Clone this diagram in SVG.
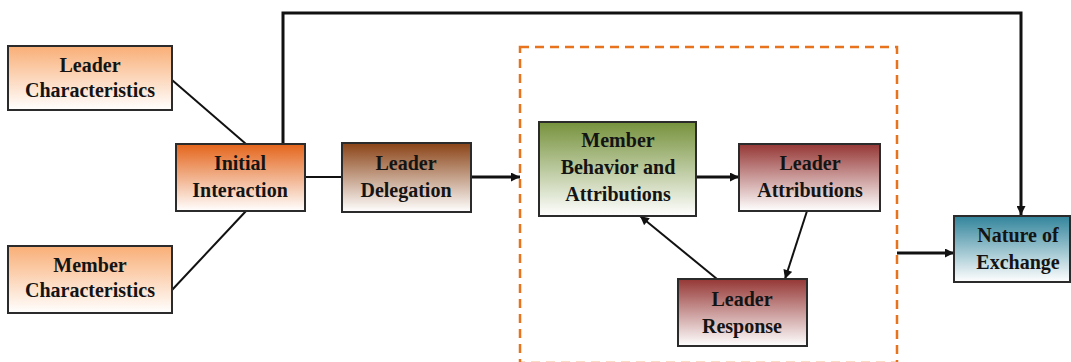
<svg xmlns="http://www.w3.org/2000/svg" width="1071" height="362" viewBox="0 0 1071 362">
<defs>
<linearGradient id="gPeach" x1="0" y1="0" x2="0" y2="1"><stop offset="0" stop-color="#F9AE76"/><stop offset="1" stop-color="#FFFFFF"/></linearGradient>
<linearGradient id="gOrange" x1="0" y1="0" x2="0" y2="1"><stop offset="0" stop-color="#E4641A"/><stop offset="1" stop-color="#FFFFFF"/></linearGradient>
<linearGradient id="gBrown" x1="0" y1="0" x2="0" y2="1"><stop offset="0" stop-color="#8A4316"/><stop offset="1" stop-color="#FFFFFF"/></linearGradient>
<linearGradient id="gGreen" x1="0" y1="0" x2="0" y2="1"><stop offset="0" stop-color="#76923C"/><stop offset="1" stop-color="#FFFFFF"/></linearGradient>
<linearGradient id="gRed" x1="0" y1="0" x2="0" y2="1"><stop offset="0" stop-color="#953735"/><stop offset="1" stop-color="#FFFFFF"/></linearGradient>
<linearGradient id="gTeal" x1="0" y1="0" x2="0" y2="1"><stop offset="0" stop-color="#31849B"/><stop offset="1" stop-color="#FFFFFF"/></linearGradient>
<marker id="arr" viewBox="0 0 10 10" refX="10" refY="5" markerWidth="10" markerHeight="9" markerUnits="userSpaceOnUse" orient="auto"><path d="M0,0 L10,5 L0,10 z" fill="#111"/></marker>
</defs>
<style>
.box{stroke:#2b2b2b;stroke-width:2}
.t{font-family:"Liberation Serif","Times New Roman","DejaVu Serif",serif;font-weight:bold;font-size:20px;fill:#141414;text-anchor:middle}
.c{fill:none;stroke:#111}
.thin{stroke-width:2}
.thick{stroke-width:3}
.dash{fill:none;stroke:#E8731E;stroke-width:2.5;stroke-dasharray:9 6}
</style>
<rect width="1071" height="362" fill="#FFFFFF"/>
<g id="group-box">
<rect class="dash" x="520" y="47" width="377" height="316"/>
</g>
<g id="connectors">
<line class="c thin" x1="172" y1="80" x2="246" y2="144"/>
<line class="c thin" x1="246" y1="211" x2="172" y2="290"/>
<polyline class="c thick" points="283,144 283,13 1021,13 1021,215" marker-end="url(#arr)"/>
<line class="c thin" x1="305" y1="177" x2="342" y2="177"/>
<line class="c thick" x1="471" y1="177" x2="520" y2="177" marker-end="url(#arr)"/>
<line class="c thick" x1="696" y1="177" x2="739" y2="177" marker-end="url(#arr)"/>
<line class="c thin" x1="807" y1="211" x2="785" y2="279" marker-end="url(#arr)"/>
<line class="c thin" x1="717" y1="279" x2="640" y2="216" marker-end="url(#arr)"/>
<line class="c thick" x1="897" y1="253" x2="954" y2="253" marker-end="url(#arr)"/>
</g>
<g id="leader-characteristics">
<rect class="box" x="8" y="46" width="164" height="64" fill="url(#gPeach)"/>
<text class="t" x="90" y="72">Leader</text>
<text class="t" x="90" y="97">Characteristics</text>
</g>
<g id="member-characteristics">
<rect class="box" x="8" y="246" width="164" height="67" fill="url(#gPeach)"/>
<text class="t" x="90" y="272">Member</text>
<text class="t" x="90" y="297">Characteristics</text>
</g>
<g id="initial-interaction">
<rect class="box" x="176" y="144" width="129" height="67" fill="url(#gOrange)"/>
<text class="t" x="240" y="170">Initial</text>
<text class="t" x="240" y="197">Interaction</text>
</g>
<g id="leader-delegation">
<rect class="box" x="342" y="143" width="129" height="69" fill="url(#gBrown)"/>
<text class="t" x="406" y="170">Leader</text>
<text class="t" x="406" y="197">Delegation</text>
</g>
<g id="member-behavior">
<rect class="box" x="539" y="122" width="157" height="94" fill="url(#gGreen)"/>
<text class="t" x="618" y="147">Member</text>
<text class="t" x="618" y="174">Behavior and</text>
<text class="t" x="618" y="201">Attributions</text>
</g>
<g id="leader-attributions">
<rect class="box" x="739" y="144" width="141" height="67" fill="url(#gRed)"/>
<text class="t" x="810" y="170">Leader</text>
<text class="t" x="810" y="197">Attributions</text>
</g>
<g id="leader-response">
<rect class="box" x="678" y="279" width="129" height="67" fill="url(#gRed)"/>
<text class="t" x="742" y="306">Leader</text>
<text class="t" x="742" y="333">Response</text>
</g>
<g id="nature-of-exchange">
<rect class="box" x="954" y="216" width="116" height="66" fill="url(#gTeal)"/>
<text class="t" x="1018" y="242">Nature of</text>
<text class="t" x="1018" y="269">Exchange</text>
</g>
</svg>
